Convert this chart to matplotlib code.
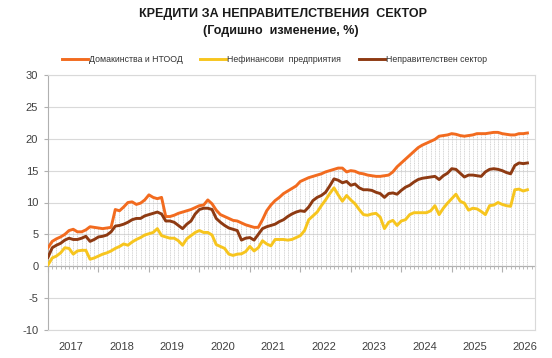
import numpy as np
import matplotlib
matplotlib.use("Agg")
import matplotlib.pyplot as plt

plt.rcParams['font.family'] = ['Liberation Sans', 'DejaVu Sans']

title = "КРЕДИТИ ЗА НЕПРАВИТЕЛСТВЕНИЯ  СЕКТОР"
subtitle = "(Годишно  изменение, %)"
series_names = ["Домакинства и НТООД", "Нефинансови  предприятия", "Неправителствен сектор"]
year_labels = ["2017", "2018", "2019", "2020", "2021", "2022", "2023", "2024", "2025", "2026"]
y_ticks = [-10, -5, 0, 5, 10, 15, 20, 25, 30]

households = [
    2.9, 3.9, 4.3, 4.6, 5.0, 5.6, 5.8, 5.4, 5.4, 5.7, 6.2, 6.1,
    6.0, 5.9, 6.0, 6.1, 8.9, 8.7, 9.3, 10.0, 10.1, 9.7, 9.9, 10.4,
    11.2, 10.8, 10.6, 10.8, 7.8, 7.8, 8.0, 8.3, 8.5, 8.7, 8.9, 9.2,
    9.5, 9.6, 10.4, 9.8, 8.8, 8.1, 7.8, 7.5, 7.2, 7.1, 6.8, 6.5,
    6.3, 6.1, 6.1, 7.3, 8.7, 9.6, 10.3, 10.8, 11.4, 11.8, 12.2, 12.6,
    13.3, 13.6, 13.9, 14.1, 14.3, 14.5, 14.8, 15.0, 15.2, 15.4, 15.4, 14.8,
    15.0, 14.9, 14.6, 14.5, 14.3, 14.2, 14.1, 14.1, 14.2, 14.3, 14.8, 15.6,
    16.2, 16.8, 17.4, 18.0, 18.6, 19.0, 19.3, 19.6, 19.9, 20.4, 20.5, 20.6,
    20.8, 20.7, 20.5, 20.4, 20.5, 20.6, 20.8, 20.8, 20.8, 20.9, 21.0, 21.0,
    20.8, 20.7, 20.6, 20.6, 20.8, 20.8, 20.9,
]
corporates = [
    0.2, 1.3, 1.6, 2.1, 2.9, 2.8, 1.9, 2.4, 2.5, 2.5, 1.1, 1.3,
    1.6, 1.9, 2.1, 2.4, 2.8, 3.1, 3.5, 3.3, 3.8, 4.2, 4.5, 4.9,
    5.1, 5.3, 5.9, 4.8, 4.6, 4.4, 4.4, 4.0, 3.3, 4.3, 4.8, 5.3,
    5.6, 5.3, 5.3, 4.9, 3.4, 3.1, 2.8, 1.9, 1.7, 1.9, 1.95, 2.3,
    3.1, 2.4, 2.9, 4.0, 3.5, 3.2, 4.2, 4.2, 4.2, 4.1, 4.2, 4.5,
    4.8, 5.6, 7.3, 7.9, 8.5, 9.5, 10.4, 11.4, 12.3, 11.2, 10.2, 11.1,
    10.4, 9.8, 8.9, 8.1, 8.0, 8.2, 8.3, 7.7, 5.9, 6.9, 7.2, 6.4,
    7.1, 7.3, 8.1, 8.4, 8.4, 8.4, 8.4, 8.7, 9.5, 8.1, 9.1, 9.9,
    10.6, 11.3, 10.2, 9.9, 8.8, 9.1, 9.0, 8.6, 8.1, 9.5, 9.6, 10.0,
    9.7, 9.5, 9.4, 12.0, 12.1, 11.8, 12.0,
]
total = [
    1.4, 2.9, 3.3, 3.6, 4.1, 4.4, 4.2, 4.2, 4.4, 4.7, 3.9, 4.2,
    4.6, 4.7, 4.9, 5.4, 6.3, 6.4, 6.6, 6.9, 7.3, 7.5, 7.5, 7.9,
    8.1, 8.3, 8.5, 8.2, 7.1, 7.1, 6.9, 6.4, 5.9, 6.6, 7.1, 8.2,
    8.9, 9.1, 9.1, 8.9, 7.5, 6.9, 6.4, 6.0, 5.8, 5.6, 4.1, 4.4,
    4.5, 4.1, 5.0, 5.9, 6.2, 6.4, 6.6, 7.0, 7.3, 7.8, 8.2, 8.5,
    8.7, 8.6, 9.3, 10.3, 10.8, 11.1, 11.6, 12.6, 13.7, 13.5, 13.1, 13.3,
    12.7, 12.9, 12.3, 12.0, 12.0, 11.9, 11.6, 11.4, 10.8, 11.4, 11.5, 11.3,
    11.9, 12.4, 12.7, 13.2, 13.6, 13.8, 13.9, 14.0, 14.1, 13.6, 14.2, 14.6,
    15.3, 15.2, 14.6, 14.0, 14.3, 14.3, 14.2, 14.1, 14.8, 15.2, 15.3, 15.2,
    15.0, 14.7, 14.5, 15.8, 16.2, 16.1, 16.2,
]

c_h = '#F26B1F'
c_c = '#F7C51E'
c_t = '#8E3A12'
grid_c = '#D9D9D9'
axis_c = '#B0B0B0'

n = len(households)
x = np.arange(n)

fig = plt.figure(figsize=(5.52, 3.58), dpi=100)
ax = fig.add_axes([48/552, 1-330/358, (535-48)/552, (330-75)/358])

# drop lines
top = np.maximum.reduce([np.array(households), np.array(corporates), np.array(total)])
ax.vlines(x, 0, top, color='#C4C4C4', lw=0.5, linestyles=(0, (1.5, 1)), zorder=1)

ax.plot(x, households, color=c_h, lw=2.1, label=series_names[0], zorder=3, solid_joinstyle='round')
ax.plot(x, corporates, color=c_c, lw=2.1, label=series_names[1], zorder=3, solid_joinstyle='round')
ax.plot(x, total, color=c_t, lw=2.1, label=series_names[2], zorder=4, solid_joinstyle='round')

ax.set_ylim(-10, 30)
ax.set_xlim(0, n + 0.8)
ax.set_yticks(y_ticks)
ax.set_yticklabels([str(v) for v in y_ticks], fontsize=8, color='#404040')
for v in y_ticks:
    if v != 0:
        ax.axhline(v, color=grid_c, lw=0.8, zorder=0)
ax.tick_params(axis='y', length=3, color=axis_c, pad=4)

for s in ['top', 'right', 'bottom']:
    ax.spines[s].set_color(grid_c)
    ax.spines[s].set_linewidth(0.8)
ax.spines['left'].set_color(axis_c)
ax.spines['left'].set_linewidth(0.8)

# year labels at bottom
label_pos = [5.5 + 12 * k for k in range(len(year_labels))]
label_pos[-1] = min(label_pos[-1], n - 1)
ax.set_xticks(label_pos)
ax.set_xticklabels(year_labels, fontsize=8, color='#404040')
ax.tick_params(axis='x', length=0, pad=9)

# axis line at zero with ticks
sec = ax.secondary_xaxis(0.25)
sec.spines['bottom'].set_color(axis_c)
sec.spines['bottom'].set_linewidth(0.9)
sec.set_xticks(np.arange(0, n + 1, 12))
sec.set_xticks(np.arange(0, n + 1, 1), minor=True)
sec.tick_params(axis='x', which='major', length=4, color=axis_c, labelbottom=False)
sec.tick_params(axis='x', which='minor', length=2.5, color=axis_c, labelbottom=False)

fig.text(0.513, 1-14/358, title, ha='center', va='center', fontsize=9, fontweight='bold', color='#1a1a1a')
fig.text(0.508, 1-31/358, subtitle, ha='center', va='center', fontsize=9, fontweight='bold', color='#1a1a1a')

fig.legend(loc='center', bbox_to_anchor=(0.497, 1-60/358), ncol=3, frameon=False,
           fontsize=6.3, handlelength=3.0, handletextpad=0.1, columnspacing=2.0,
           labelcolor='#333333')

fig.savefig('out.png', dpi=100)
